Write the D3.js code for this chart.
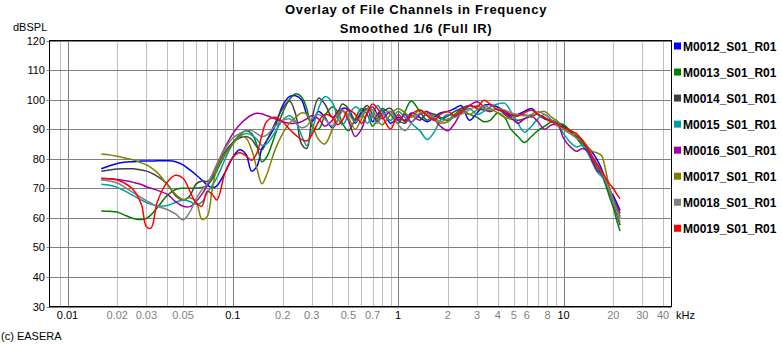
<!DOCTYPE html>
<html><head><meta charset="utf-8">
<script src="https://cdn.jsdelivr.net/npm/d3@7"></script>
<style>
body{margin:0;background:#fff;}
svg{display:block;font-family:"Liberation Sans",Arial,sans-serif;}
</style></head><body><svg id="c" width="782" height="345"></svg>
<script>
const freqKHz = [0.016,0.018,0.02,0.022,0.025,0.028,0.03,0.032,0.035,0.04,0.045,0.05,0.055,0.06,0.065,0.07,0.075,0.08,0.09,0.1,
 0.11,0.12,0.13,0.14,0.15,0.16,0.18,0.2,0.22,0.24,0.26,0.28,0.3,0.33,0.36,0.4,0.43,0.46,0.5,0.55,0.6,0.65,0.7,0.75,0.8,0.9,1.0,
 1.1,1.2,1.35,1.5,1.65,1.8,2,2.2,2.4,2.7,3,3.3,3.6,4,4.4,4.8,5.3,5.8,6.4,7,7.7,8.5,9.3,
 10,11,12,13,14,15,16,17,18,19,20,21,22];

const m0012 = [76.6,77.6,78.4,78.8,79.0,79.2,79.2,79.2,79.3,79.3,79.0,77.9,76.2,74.5,72.8,71.1,70.2,70.8,75.5,80.5,
 83,81.5,75.8,77.5,83.5,86,91,98,101,101.3,100,95,92.5,96,94,90.5,93,97,96.5,92,95.5,97,92.5,95,96.5,92,94,
 93,95.5,94,92.5,94,95.5,96,97,98,93,95.5,98,98.3,97.5,96,94.5,95,96,97,95,93.5,93,92,
 91,89,87.5,86,84,82,79.5,76.5,72.5,69,67.5,65,62.5];
const m0013 = [62.3,62.2,62.0,61.0,59.8,59.4,59.8,61.0,63.5,67.5,69.6,70.0,70.0,70.1,70.3,71.0,73.0,76.0,81.5,85.5,
 88,89.5,88.5,84.5,79,80.5,88,95.5,100,102,101,97,91,90,94.5,97.5,96,92,89.5,93.5,97,95,91,93.5,97,95,92,
 96,99.5,96,93,95,94,93,95,96.5,95,94,92.5,93,95.5,94,90,87.5,85.5,87.5,89.5,91,92.5,92,
 91.5,89.5,87,84.5,82.5,79.5,77,74.5,71,67,63.5,59,55.5];
const m0014 = [75.8,76.2,76.5,76.6,76.6,76.2,75.8,75.2,74.0,71.5,67.5,66.0,67.5,71.5,72.5,72.3,74.0,77.5,82.5,85.5,
 87,87.5,86.5,84,83,86,92,97,99.5,95,85,83.5,93,100.5,98.5,94,95.5,98.5,97,93,96,98,95,92.5,95.5,97,93,
 92,94.5,93,95.5,95,93.5,94.5,96,97,98,97,96.5,96,97,95,93.5,93,93.5,94.5,95,93.5,92.5,91.5,
 90.5,89,87.5,85.5,83,80.5,78,75,72,68.5,65,61,57.5];
const m0015 = [71.4,71.0,70.3,69.2,67.5,66.0,65.2,64.6,64.0,64.2,65.2,66.0,65.5,64.6,65.3,68.5,71.0,73.5,80.0,85.0,
 87.5,88.5,88,86.5,84.5,85,89,93,94.5,92.5,88,84.5,89,97,101,99,94,91.5,94.5,97.5,96,92,95,98,96,93,96,
 94,92,89.5,86.5,89,93,95,94,95.5,97,95,96,97.5,98.5,98.8,96,92,89,91,93.5,95,93,91.5,
 88.5,85.5,84,84.5,82,78.5,75.5,74,72.5,69,66,63,60];
const m0016 = [73.2,73.2,73.0,72.6,72.0,71.3,70.5,70.0,69.3,68.0,65.5,63.9,63.8,65.5,68.0,71.0,74.5,78.0,84.0,88.5,
 91.5,93.5,94.8,95.4,95.2,94.6,93.5,92.5,92,92,92.5,93.5,94.5,93.5,91,93,96,96.5,93,87.5,90,95.5,97.5,95,93.5,96,93,
 95,92.5,95,96,93.5,91,89.5,92,95.5,98,99.3,97.5,96,97,95.5,94,92,93.5,94.5,92.5,90,91.5,91,
 87,84,82.5,83.5,82.5,79,76,75,73,70,66.5,64,61.5];
const m0017 = [81.6,81.3,80.8,80.3,79.6,78.6,77.9,77.0,75.3,71.3,68.0,66.2,66.8,65.5,59.5,60.5,69.5,76.5,81.5,85.0,
 87.5,87,83,76.5,71.5,74.5,83,88.5,92,94,95.5,95,92,86.5,85,90,95,96.5,94,90,93.5,97,96.5,93,91.5,95,97,
 95.5,94,96.5,95,93,92,92.5,94.5,96,95,96.5,98,97,95.5,94,93.5,94.5,95,94,95.5,96,94,92.5,
 90,88.5,88,86.5,84,82.5,82,81,76,70,66,63,60.5];
const m0018 = [72.8,72.5,71.8,70.5,68.5,66.8,65.8,65.0,63.9,62.8,61.3,59.3,62.0,66.5,69.5,71.5,74.5,78.0,83.5,87.0,
 88.5,89.5,89.5,88.5,87.5,88,91,93,93.5,92,90.5,91,93.5,95,93.5,91,93,96,95,92.5,94.5,96.5,94,92,94.5,96,91.5,
 89.5,92,95.5,95,94,92.5,93.5,94,95,96.5,98,97,96.5,97,96.5,95.5,95,94.5,95,96,95,93,91,
 90.5,88.5,87,86,83.5,80.5,78,75.5,72.5,69,65.5,62,58.5];
const m0019 = [73.4,73.2,72.8,71.8,69.5,64.5,57.0,56.5,65.5,72.0,74.4,73.4,69.0,65.0,64.0,69.0,68.0,66.0,75.5,80.5,
 82,81,79.5,82,88,92.5,94,92.5,90,88,86.5,86,88,92.5,95,94,91.5,93,96.5,95,92,95.5,98.5,97,94.5,90,95,
 92.5,95,96.5,94.5,93,95,96,94.5,96,98,97.5,99.8,98.5,96.5,96,95,94.5,95.5,96.5,95,94,92.5,91.5,
 90.5,89.5,88.5,86,83.5,80.5,78,76,73.5,71.5,70,68,66.5];

const seriesNames = ["M0012_S01_R01","M0013_S01_R01","M0014_S01_R01","M0015_S01_R01","M0016_S01_R01","M0017_S01_R01","M0018_S01_R01","M0019_S01_R01"];
const seriesColors = ["#0000ff","#008000","#404040","#00a0a0","#a000a0","#808000","#808080","#ff0000"];
const seriesValues = [m0012,m0013,m0014,m0015,m0016,m0017,m0018,m0019];

const yTicks = [30,40,50,60,70,80,90,100,110,120];
const majorGrid = [0.01,0.1,1,10];
const minorGrid = [0.009,0.02,0.03,0.04,0.05,0.06,0.07,0.08,0.09,0.2,0.3,0.4,0.5,0.6,0.7,0.8,0.9,2,3,4,5,6,7,8,9,20,30,40];
const xLabels = ["0.01","0.02","0.03","0.05","0.1","0.2","0.3","0.5","0.7","1","2","3","4","5","6","8","10","20","30","40"];
const titleLines = ["Overlay of File Channels in Frequency","Smoothed 1/6 (Full IR)"];

const L=49.5,R=671.5,T=40.5,B=306.5;
const x = d3.scaleLog().domain([0.01,10]).range([67.5,563.5]);
const y = d3.scaleLinear().domain([30,120]).range([B,T]);
const svg = d3.select("#c");

svg.append("rect").attr("width",782).attr("height",345).attr("fill","#fff");

// title
svg.selectAll("text.title").data(titleLines).join("text")
  .attr("x",416).attr("y",(d,i)=>13.5+i*19).attr("text-anchor","middle")
  .attr("font-size","13px").attr("font-weight","bold").attr("letter-spacing","0.7px").attr("fill","#000").text(d=>d);

// grid
const g = svg.append("g");
g.selectAll("line.minor").data(minorGrid).join("line")
  .attr("x1",d=>Math.round(x(d))+0.5).attr("x2",d=>Math.round(x(d))+0.5).attr("y1",T).attr("y2",B)
  .attr("stroke","#c0c0c0").attr("stroke-width",1);
g.selectAll("line.hgrid").data(yTicks).join("line")
  .attr("x1",L-3).attr("x2",R).attr("y1",d=>Math.round(y(d))+0.5).attr("y2",d=>Math.round(y(d))+0.5)
  .attr("stroke","#808080").attr("stroke-width",1);
g.selectAll("line.major").data(majorGrid).join("line")
  .attr("x1",d=>Math.round(x(d))+0.5).attr("x2",d=>Math.round(x(d))+0.5).attr("y1",T).attr("y2",B)
  .attr("stroke","#808080").attr("stroke-width",1);

// curves
svg.append("clipPath").attr("id","clip").append("rect").attr("x",L).attr("y",T).attr("width",R-L).attr("height",B-T);
const line = d3.line().x((d,i)=>x(freqKHz[i])).y(d=>y(d)).curve(d3.curveCatmullRom.alpha(0.5));
svg.append("g").attr("clip-path","url(#clip)").selectAll("path").data(seriesValues).join("path")
  .attr("d",d=>line(d)).attr("fill","none").attr("stroke",(d,i)=>seriesColors[i]).attr("stroke-width",1.5)
  .attr("stroke-linejoin","round");

// frame
svg.append("rect").attr("x",L).attr("y",T).attr("width",R-L).attr("height",B-T)
  .attr("fill","none").attr("stroke","#000").attr("stroke-width",1);

// y labels
svg.selectAll("text.yl").data(yTicks).join("text")
  .attr("x",45).attr("y",d=>y(d)+4).attr("text-anchor","end").attr("font-size","11px").attr("fill","#000").text(d=>d);
svg.append("text").attr("x",13).attr("y",31).attr("font-size","11px").attr("fill","#000").text("dBSPL");

// x labels
svg.selectAll("text.xl").data(xLabels).join("text")
  .attr("x",d=>x(+d)).attr("y",319).attr("text-anchor","middle").attr("font-size","11px")
  .attr("fill",d=>majorGrid.includes(+d)?"#000":"#808080").text(d=>d);
svg.append("text").attr("x",676).attr("y",319).attr("font-size","11px").attr("fill","#000").text("kHz");
svg.append("text").attr("x",1).attr("y",340).attr("font-size","11px").attr("fill","#000").text("(c) EASERA");

// legend
const lg = svg.append("g");
lg.selectAll("rect").data(seriesNames).join("rect")
  .attr("x",674).attr("y",(d,i)=>46+i*26.04-3.5).attr("width",7).attr("height",7).attr("fill",(d,i)=>seriesColors[i]);
lg.selectAll("text").data(seriesNames).join("text")
  .attr("x",683).attr("y",(d,i)=>46+i*26.04+4.5).attr("font-size","12px").attr("font-weight","bold").attr("fill","#000").text(d=>d);
</script></body></html>
